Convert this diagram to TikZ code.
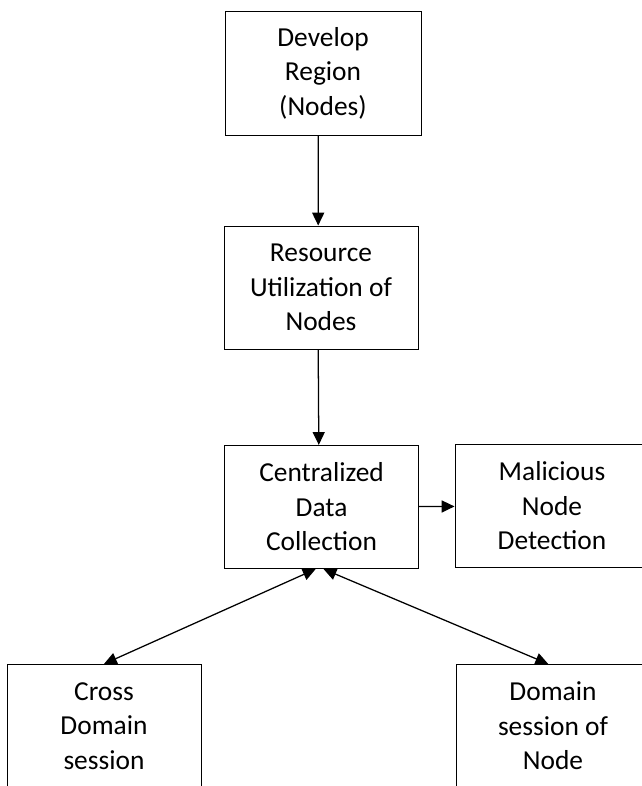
\documentclass[tikz,border=0pt]{standalone}
\usepackage{fontspec}
\setmainfont{Carlito}
\usetikzlibrary{arrows.meta}
\pgfdeclarelayer{nodelayer}
\pgfdeclarelayer{edgelayer}
\pgfsetlayers{edgelayer,nodelayer,main}
\tikzstyle{step box}=[fill=white, draw=black, line width=0.7pt, shape=rectangle, minimum width=4.85cm, minimum height=3.08cm, align=center, font=\fontsize{19.5}{24.5}\selectfont, inner sep=0pt]
\tikzstyle{none}=[fill=none, draw=none, shape=circle, scale=0]
\tikzstyle{flow edge}=[draw=black, line width=0.9pt, -{Triangle[length=0.32cm, width=0.3cm]}]
\tikzstyle{both edge}=[draw=black, line width=0.9pt, {Triangle[length=0.32cm, width=0.3cm]}-{Triangle[length=0.32cm, width=0.3cm]}]

\begin{document}
\begin{tikzpicture}
	\useasboundingbox (0, 0) rectangle (16.05, -19.65);
	\clip (0, 0) rectangle (16.05, -19.65);
	\begin{pgfonlayer}{nodelayer}
		\node [style=step box, minimum width=4.9cm, minimum height=3.1cm] (0) at (8.075, -1.825) {Develop\\Region\\(Nodes)};
		\node [style=step box] (1) at (8.025, -7.19) {Resource\\Utilization of\\Nodes};
		\node [style=step box] (2) at (8.04, -12.675) {Centralized\\Data\\Collection};
		\node [style=step box] (3) at (13.8, -12.65) {Malicious\\Node\\Detection};
		\node [style=step box] (4) at (2.6, -18.15) {Cross\\Domain\\session};
		\node [style=step box] (5) at (13.825, -18.15) {Domain\\session of\\Node};
	\end{pgfonlayer}
	\begin{pgfonlayer}{edgelayer}
		\draw [style=flow edge] ([xshift=-0.12cm]0.south) to ([xshift=-0.07cm]1.north);
		\draw [style=flow edge] ([xshift=-0.07cm]1.south) to ([xshift=-0.07cm]2.north);
		\draw [style=flow edge] (2) to (3);
		\draw [style=both edge] ([xshift=-0.15cm]2.south) to (4.north);
		\draw [style=both edge] ([xshift=0.05cm]2.south) to ([xshift=-0.12cm]5.north);
	\end{pgfonlayer}
\end{tikzpicture}
\end{document}
